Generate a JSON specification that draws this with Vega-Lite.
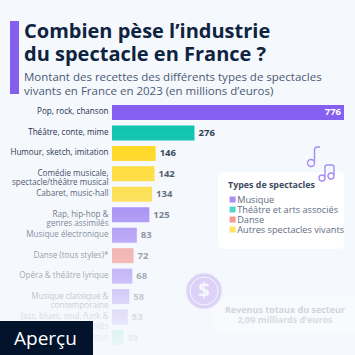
{
  "$schema": "https://vega.github.io/schema/vega-lite/v6.json",
  "width": 232,
  "height": 240,
  "autosize": {"type": "none"},
  "padding": {"left": 112, "top": 105, "right": 11, "bottom": 10},
  "background": "#f5f8fc",
  "title": {
    "text": ["Combien pèse l’industrie", "du spectacle en France ?"],
    "subtitle": ["Montant des recettes des différents types de spectacles", "vivants en France en 2023 (en millions d’euros)"],
    "anchor": "start",
    "frame": "group",
    "dx": -88,
    "dy": 97,
    "offset": 0,
    "font": "Open Sans",
    "fontWeight": "bold",
    "fontSize": 20,
    "lineHeight": 23,
    "color": "#0d2340",
    "subtitleFont": "Open Sans",
    "subtitleFontSize": 11.5,
    "subtitleLineHeight": 14,
    "subtitleColor": "#4a5a75",
    "subtitlePadding": 7
  },
  "config": {"view": {"stroke": null}},
  "data": {"values": [
    {"genre": "Pop, rock, chanson", "recettes": 776, "type": "Musique"},
    {"genre": "Théâtre, conte, mime", "recettes": 276, "type": "Théâtre et arts associés"},
    {"genre": "Humour, sketch, imitation", "recettes": 146, "type": "Autres spectacles vivants"},
    {"genre": "Comédie musicale,\nspectacle/théâtre musical", "recettes": 142, "type": "Autres spectacles vivants"},
    {"genre": "Cabaret, music-hall", "recettes": 134, "type": "Autres spectacles vivants"},
    {"genre": "Rap, hip-hop &\ngenres assimilés", "recettes": 125, "type": "Musique"},
    {"genre": "Musique électronique", "recettes": 83, "type": "Musique"},
    {"genre": "Danse (tous styles)*", "recettes": 72, "type": "Danse"},
    {"genre": "Opéra & théâtre lyrique", "recettes": 68, "type": "Musique"},
    {"genre": "Musique classique &\ncontemporaine", "recettes": 58, "type": "Musique"},
    {"genre": "Jazz, blues, soul, funk &\ngenres assimilés", "recettes": 53, "type": "Musique"},
    {"genre": "Arts du cirque", "recettes": 38, "type": "Théâtre et arts associés"}
  ]},
  "encoding": {
    "y": {
      "field": "genre",
      "type": "nominal",
      "sort": null,
      "scale": {"paddingInner": 0.2667, "paddingOuter": 0},
      "axis": {
        "title": null,
        "domain": false,
        "ticks": false,
        "labelPadding": 4,
        "labelFont": "Open Sans",
        "labelFontSize": 8.1,
        "labelColor": "#1c2e4a",
        "labelLineHeight": 9.5,
        "labelLimit": 120,
        "labelExpr": "split(datum.label, '\\n')"
      }
    },
    "x": {
      "field": "recettes",
      "type": "quantitative",
      "axis": null,
      "scale": {"domain": [0, 776], "nice": false}
    }
  },
  "layer": [
    {
      "mark": {"type": "bar"},
      "encoding": {
        "color": {
          "field": "type",
          "type": "nominal",
          "scale": {
            "domain": ["Musique", "Théâtre et arts associés", "Danse", "Autres spectacles vivants"],
            "range": ["#8560f0", "#10c4b0", "#ef6f66", "#ffd81f"]
          },
          "legend": {
            "orient": "none",
            "legendX": 116,
            "legendY": 76,
            "title": "Types de spectacles",
            "titleFont": "Open Sans",
            "titleFontSize": 8.9,
            "titleFontWeight": "bold",
            "titleColor": "#3d4a60",
            "titlePadding": 5,
            "labelFont": "Open Sans",
            "labelFontSize": 9.2,
            "labelColor": "#616d82",
            "symbolType": "square",
            "symbolSize": 36,
            "symbolOpacity": 0.7,
            "symbolStrokeWidth": 0,
            "rowPadding": 0,
            "labelOffset": 0
          }
        }
      }
    },
    {
      "transform": [{"filter": "datum.recettes < 700"}],
      "mark": {"type": "text", "align": "left", "baseline": "middle", "dx": 4, "font": "Open Sans", "fontWeight": "bold", "fontSize": 9.5, "color": "#2f3c54"},
      "encoding": {"text": {"field": "recettes", "type": "quantitative"}}
    },
    {
      "transform": [{"filter": "datum.recettes >= 700"}],
      "mark": {"type": "text", "align": "right", "baseline": "middle", "dx": -3, "font": "Open Sans", "fontWeight": "bold", "fontSize": 9.5, "color": "#ffffff"},
      "encoding": {"text": {"field": "recettes", "type": "quantitative"}}
    },
    {
      "data": {"values": [{"nom": "voile"}]},
      "mark": {
        "type": "rect",
        "fill": {
          "gradient": "linear", "x1": 0, "y1": 0, "x2": 0, "y2": 1,
          "stops": [
            {"offset": 0.35, "color": "rgba(245,248,252,0)"},
            {"offset": 0.43, "color": "rgba(245,248,252,0.05)"},
            {"offset": 0.6, "color": "rgba(245,248,252,0.37)"},
            {"offset": 0.66, "color": "rgba(245,248,252,0.47)"},
            {"offset": 0.78, "color": "rgba(245,248,252,0.6)"},
            {"offset": 0.84, "color": "rgba(245,248,252,0.75)"},
            {"offset": 0.89, "color": "rgba(245,248,252,0.85)"},
            {"offset": 0.95, "color": "rgba(245,248,252,0.92)"},
            {"offset": 1, "color": "rgba(245,248,252,1)"}
          ]
        }
      },
      "encoding": {
        "x": {"value": -112}, "x2": {"value": 243},
        "y": {"value": -105}, "y2": {"value": 250}
      }
    },
    {
      "data": {"values": [{"nom": "accent"}]},
      "mark": {"type": "rect", "fill": "#8560f0"},
      "encoding": {
        "x": {"value": -102}, "x2": {"value": -93},
        "y": {"value": -84}, "y2": {"value": -11}
      }
    },
    {
      "data": {"values": [{"nom": "encart"}]},
      "mark": {"type": "rect", "fill": "#ffffff", "cornerRadius": 5},
      "encoding": {
        "x": {"value": 106}, "x2": {"value": 232},
        "y": {"value": 67}, "y2": {"value": 144}
      }
    },
    {
      "data": {"values": [{"nom": "note"}]},
      "mark": {"type": "point", "shape": "M-3.5,0A3.5,3.5 0 1,0 3.5,0A3.5,3.5 0 1,0 -3.5,0M3.5,0L3.5,-13Q3.5,-16 6,-16L9,-16", "size": 4, "filled": false, "stroke": "#a68df5", "strokeWidth": 1.4, "opacity": 1},
      "encoding": {"x": {"value": 199}, "y": {"value": 58}}
    },
    {
      "data": {"values": [{"nom": "note double"}]},
      "mark": {"type": "point", "shape": "M-3,0A3,3 0 1,0 3,0A3,3 0 1,0 -3,0M3,0L3,-11Q3,-13 5,-13L10,-13Q12,-13 12,-11L12,-2M6,-2A3,3 0 1,0 12,-2A3,3 0 1,0 6,-2", "size": 4, "filled": false, "stroke": "#a68df5", "strokeWidth": 1.4, "opacity": 1},
      "encoding": {"x": {"value": 210}, "y": {"value": 73}}
    },
    {
      "data": {"values": [{"nom": "bande"}]},
      "mark": {"type": "rect", "fill": "#f8fafd"},
      "encoding": {
        "x": {"value": 101}, "x2": {"value": 243},
        "y": {"value": 192}, "y2": {"value": 228}
      }
    },
    {
      "data": {"values": [{"nom": "pièce"}]},
      "mark": {"type": "point", "shape": "circle", "size": 1296, "filled": true, "fill": "#dcd2f8", "stroke": "#eef0fb", "strokeWidth": 1, "opacity": 1},
      "encoding": {"x": {"value": 92}, "y": {"value": 186}}
    },
    {
      "data": {"values": [{"nom": "anneau"}]},
      "mark": {"type": "point", "shape": "circle", "size": 784, "filled": false, "stroke": "#f5f6fd", "strokeWidth": 1, "opacity": 1},
      "encoding": {"x": {"value": 92}, "y": {"value": 186}}
    },
    {
      "data": {"values": [{"t": "$"}]},
      "mark": {"type": "text", "font": "Open Sans", "fontWeight": "bold", "fontSize": 20, "color": "#f7f8fe", "align": "center", "baseline": "middle"},
      "encoding": {"text": {"field": "t"}, "x": {"value": 92}, "y": {"value": 186}}
    },
    {
      "data": {"values": [{"t": "Revenus totaux du secteur"}]},
      "mark": {"type": "text", "font": "Open Sans", "fontWeight": "bold", "fontSize": 9, "color": "#d0d6de", "align": "center", "baseline": "middle"},
      "encoding": {"text": {"field": "t"}, "x": {"value": 173}, "y": {"value": 205}}
    },
    {
      "data": {"values": [{"t": "2,09 milliards d’euros"}]},
      "mark": {"type": "text", "font": "Open Sans", "fontWeight": "bold", "fontSize": 9, "color": "#d7dce3", "align": "center", "baseline": "middle"},
      "encoding": {"text": {"field": "t"}, "x": {"value": 173}, "y": {"value": 215}}
    },
    {
      "data": {"values": [{"nom": "badge"}]},
      "mark": {"type": "rect", "fill": "#02132b"},
      "encoding": {
        "x": {"value": -112}, "x2": {"value": -19},
        "y": {"value": 216}, "y2": {"value": 250}
      }
    },
    {
      "data": {"values": [{"t": "Aperçu"}]},
      "mark": {"type": "text", "font": "Open Sans", "fontSize": 19, "color": "#ffffff", "align": "left", "baseline": "middle"},
      "encoding": {"text": {"field": "t"}, "x": {"value": -98}, "y": {"value": 234}}
    }
  ]
}
